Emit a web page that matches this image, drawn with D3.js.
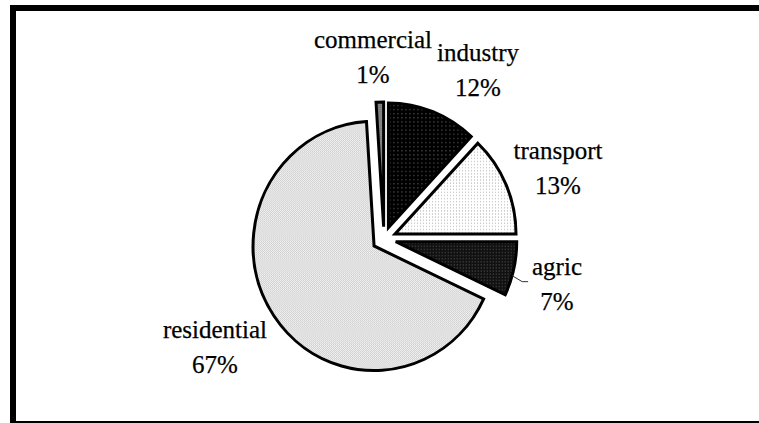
<!DOCTYPE html>
<html>
<head>
<meta charset="utf-8">
<script src="https://cdn.jsdelivr.net/npm/d3@7"></script>
<style>
  html, body { margin: 0; padding: 0; background: #fff; overflow: hidden; width: 759px; height: 423px; }
  svg { display: block; overflow: hidden; }
</style>
</head>
<body>
<svg id="chart" width="759" height="423"></svg>
<script>
// Energy use by sector, share of total (%), drawn clockwise from 12 o'clock
const categories = ["industry", "transport", "agric", "residential", "commercial"];
const shares = [12, 13, 7, 67, 1];

// Label anchor points (x centre, baseline of the first line)
const labelPos = {
  industry:    [478, 61],
  transport:   [558, 159],
  agric:       [557, 275],
  residential: [215, 338],
  commercial:  [373, 48]
};

const FONT = "'Liberation Serif', 'Times New Roman', Times, serif";

const svg = d3.select("#chart");
const cx = 384, cy = 239, R = 121, explode = 12, yStretch = 1.03;

// Fill patterns for the slices
const defs = svg.append("defs");
function pattern(id, size, bg, dots, dotColor) {
  const p = defs.append("pattern").attr("id", id)
    .attr("patternUnits", "userSpaceOnUse").attr("width", size).attr("height", size);
  p.append("rect").attr("width", size).attr("height", size).attr("fill", bg);
  dots.forEach(([x, y, s]) => p.append("rect").attr("x", x).attr("y", y)
    .attr("width", s).attr("height", s).attr("fill", dotColor));
}
pattern("p-industry", 4, "#000", [[1, 1, 1]], "#7a7a7a");
pattern("p-transport", 3, "#fff", [[1, 1, 1]], "#b4b4b4");
pattern("p-agric", 3, "#111", [[1, 1, 1]], "#5a5a5a");
pattern("p-residential", 2, "#f4f4f4", [[0, 0, 1], [1, 1, 1]], "#cdcdcd");
pattern("p-commercial", 2, "#8a8a8a", [[0, 0, 1]], "#6a6a6a");

// Frame: top, left and bottom sides; the right side lies beyond the canvas
svg.append("path")
  .attr("d", "M 800 8 H 13 V 424 H 800")
  .attr("fill", "none").attr("stroke", "#000").attr("stroke-width", 6)
  .attr("stroke-linejoin", "miter");

const pie = d3.pie().sort(null).value(d => d).startAngle(0).endAngle(2 * Math.PI);
const arcs = pie(shares);
const arc = d3.arc().innerRadius(0).outerRadius(R);

const g = svg.append("g")
  .attr("transform", `translate(${cx},${cy}) scale(1,${yStretch})`);

g.selectAll("path.slice")
  .data(arcs)
  .join("path")
  .attr("class", "slice")
  .attr("transform", d => {
    const mid = (d.startAngle + d.endAngle) / 2;
    return `translate(${explode * Math.sin(mid)},${-explode * Math.cos(mid)})`;
  })
  .attr("d", arc)
  .attr("fill", (d, i) => `url(#p-${categories[i]})`)
  .attr("stroke", "#000")
  .attr("stroke-width", 3)
  .attr("stroke-linejoin", "miter")
  .attr("vector-effect", "non-scaling-stroke");

// Leader line for the agric label, starting on the slice's outer edge
{
  const d = arcs[categories.indexOf("agric")];
  const mid = (d.startAngle + d.endAngle) / 2;
  const a = mid + 0.056;
  const px = cx + explode * Math.sin(mid) + R * Math.sin(a);
  const py = cy + (-explode * Math.cos(mid) - R * Math.cos(a)) * yStretch;
  svg.append("polyline")
    .attr("points", `${px},${py} ${px + 10},${py + 6} ${px + 16},${py + 6}`)
    .attr("fill", "none").attr("stroke", "#333").attr("stroke-width", 1);
}

// Labels: category name over percentage
categories.forEach((c, i) => {
  const [x, y] = labelPos[c];
  const t = svg.append("text")
    .attr("text-anchor", "middle")
    .attr("font-family", FONT)
    .attr("font-size", 25)
    .attr("fill", "#000")
    .attr("stroke", "#000")
    .attr("stroke-width", 0.25);
  t.append("tspan").attr("x", x).attr("y", y).text(c);
  t.append("tspan").attr("x", x).attr("y", y + 35).text(`${shares[i]}%`);
});
</script>
</body>
</html>
